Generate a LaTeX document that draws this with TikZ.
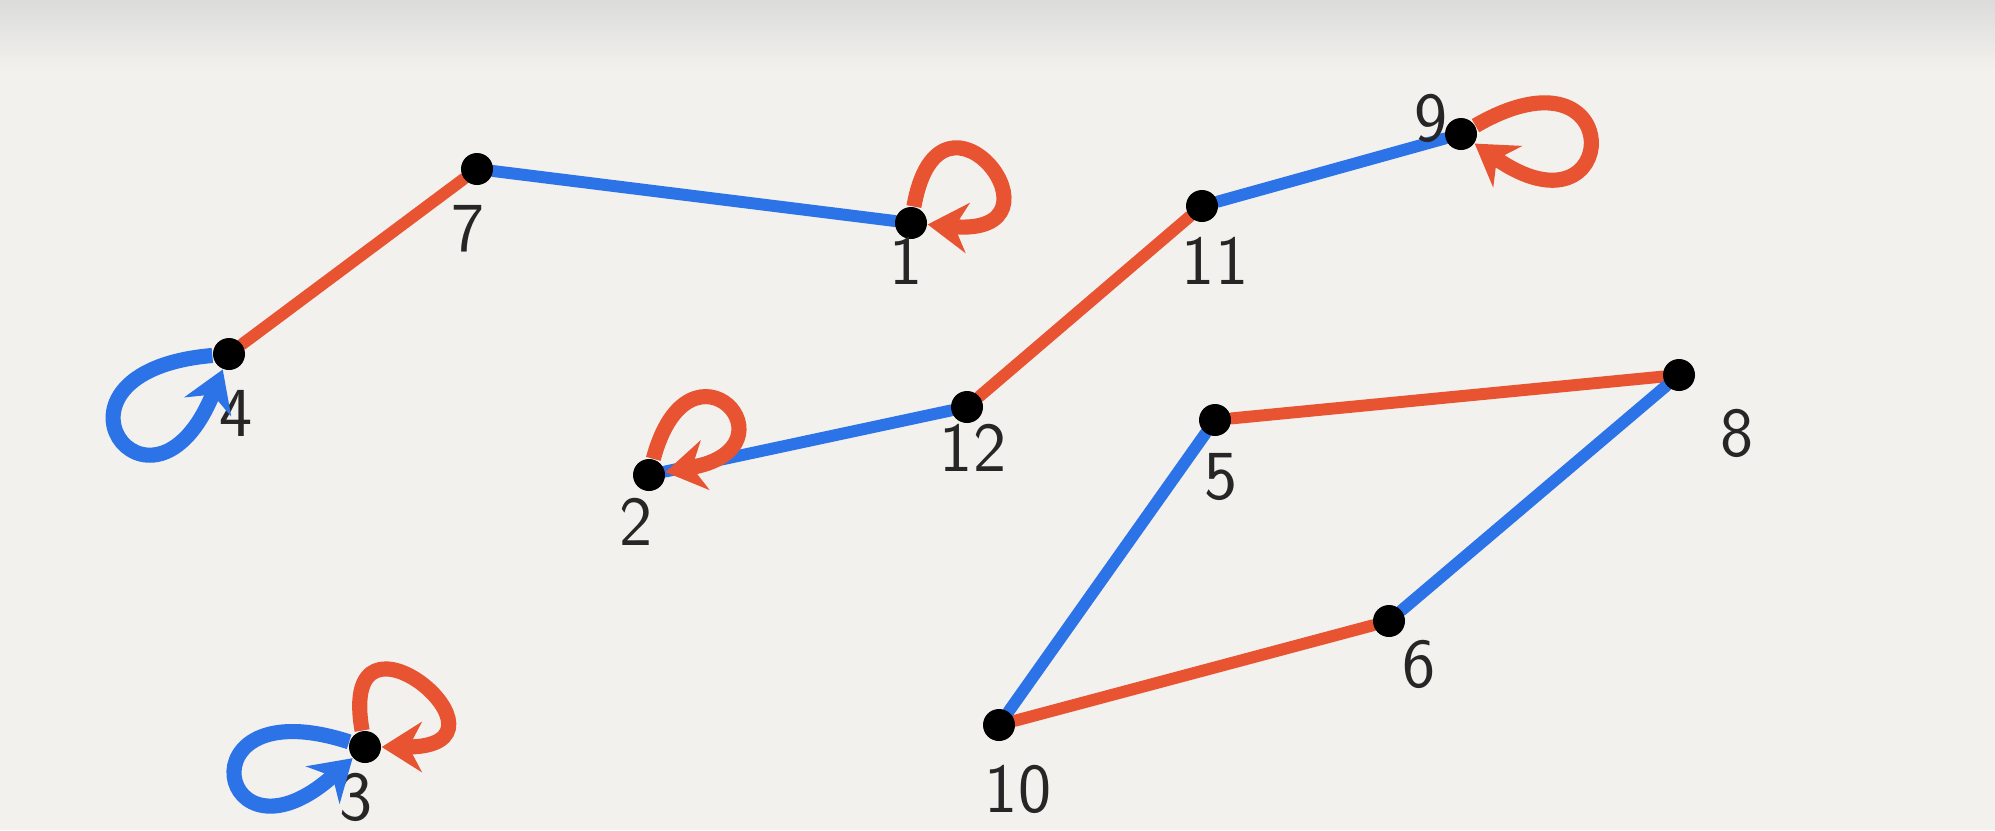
\documentclass[tikz,border=0pt]{standalone}
\usepackage{xcolor}
\usepackage{tikz}
\usetikzlibrary{arrows.meta,backgrounds}

\definecolor{paper}{RGB}{242,241,237}
\definecolor{myred}{RGB}{232,84,50}
\definecolor{myblue}{RGB}{45,115,232}

\tikzset{
	vertex/.style={circle,fill=black,inner sep=0pt,minimum size=3.2mm},
	lbl/.style={font=\sffamily\fontsize{20}{24}\selectfont,text=black!85},
	redline/.style={draw=myred,line width=3.4pt,line cap=round},
	blueline/.style={draw=myblue,line width=3.4pt,line cap=round},
	redloop/.style={draw=myred,line width=4.3pt,-{Stealth[length=4mm,width=5mm]}},
	blueloop/.style={draw=myblue,line width=4.3pt,-{Stealth[length=4mm,width=5mm]}}
}

\begin{document}
\begin{tikzpicture}

	\useasboundingbox (0,0) rectangle (19.95,8.3);

	\node[vertex] (7) at (4.77,6.61) {};
	\node[vertex] (1) at (9.11,6.07) {};
	\node[vertex] (4) at (2.29,4.76) {};
	\node[vertex] (9) at (14.61,6.96) {};
	\node[vertex] (11) at (12.02,6.24) {};
	\node[vertex] (12) at (9.67,4.23) {};
	\node[vertex] (2) at (6.49,3.55) {};
	\node[vertex] (5) at (12.15,4.10) {};
	\node[vertex] (8) at (16.79,4.55) {};
	\node[vertex] (6) at (13.89,2.09) {};
	\node[vertex] (10) at (9.99,1.05) {};
	\node[vertex] (3) at (3.65,0.83) {};

	\node[lbl] (l7) at (4.68,6.01) {7};
	\node[lbl] (l1) at (9.06,5.69) {1};
	\node[lbl] (l4) at (2.36,4.17) {4};
	\node[lbl] (l9) at (14.31,7.12) {9};
	\node[lbl] (l11) at (12.15,5.69) {11};
	\node[lbl] (l12) at (9.73,3.82) {12};
	\node[lbl] (l2) at (6.36,3.08) {2};
	\node[lbl] (l5) at (12.21,3.53) {5};
	\node[lbl] (l8) at (17.37,3.97) {8};
	\node[lbl] (l6) at (14.19,1.66) {6};
	\node[lbl] (l10) at (10.18,0.41) {10};
	\node[lbl] (l3) at (3.56,0.33) {3};

	\begin{scope}[on background layer]
	% paper
	\fill[paper] (0,0) rectangle (19.95,8.3);
	\shade[top color=black!14,bottom color=paper] (0,7.6) rectangle (19.95,8.3);

	\draw[redline] (4)--(7);
	\draw[blueline] (7)--(1);
	\draw[blueline] (11)--(9);
	\draw[redline] (12)--(11);
	\draw[blueline] (2)--(12);
	\draw[redline] (5)--(8);
	\draw[blueline] (8)--(6);
	\draw[redline] (6)--(10);
	\draw[blueline] (10)--(5);
	\end{scope}

	% loops
	\draw[redloop] (1) to[out=80,in=-5,min distance=1.5cm] (1);
	\draw[redloop] (9) to[out=30,in=-35,min distance=1.8cm] (9);
	\draw[redloop] (2) to[out=75,in=10,min distance=1.4cm] (2);
	\draw[blueloop] (4) to[out=185,in=248,min distance=1.9cm] (4);
	\draw[blueloop] (3) to[out=162,in=222,min distance=1.8cm] (3);
	\draw[redloop] (3) to[out=100,in=0,min distance=1.5cm] (3);

\end{tikzpicture}
\end{document}
